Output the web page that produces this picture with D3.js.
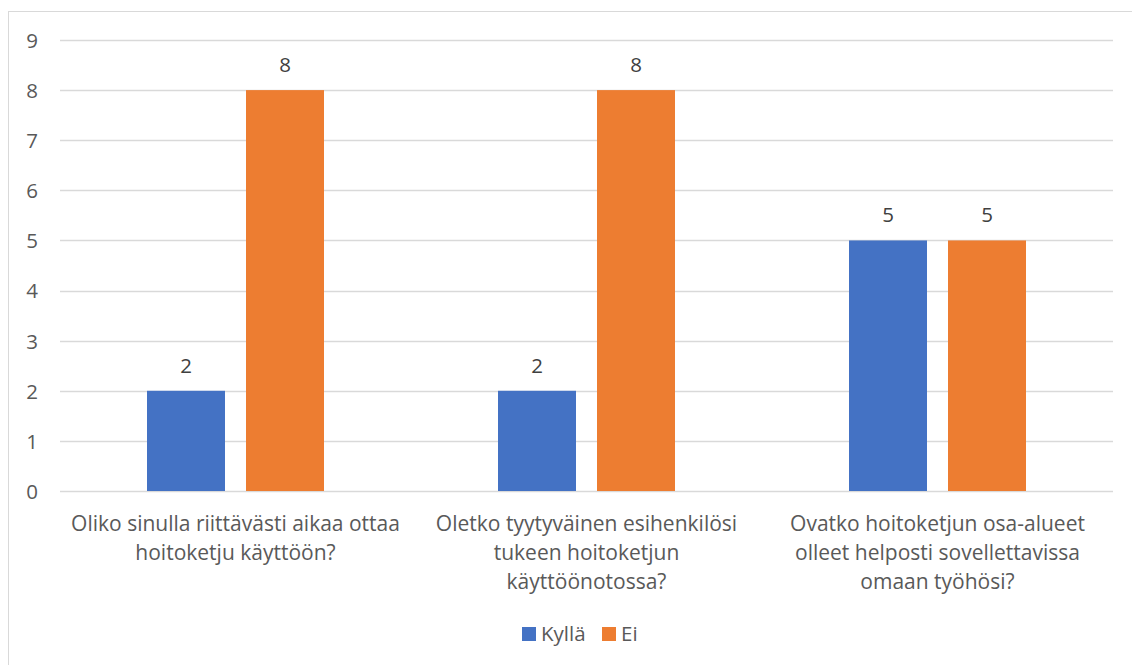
<!DOCTYPE html>
<html><head><meta charset="utf-8">
<script src="https://cdn.jsdelivr.net/npm/d3@7"></script>
<style>body{margin:0;background:#fff;}svg{display:block;font-family:"Open Sans",sans-serif;}</style>
</head><body>
<svg id="c" width="1132" height="665"></svg>
<script>
const categories = [
  ["Oliko sinulla riittävästi aikaa ottaa", "hoitoketju käyttöön?"],
  ["Oletko tyytyväinen esihenkilösi", "tukeen hoitoketjun", "käyttöönotossa?"],
  ["Ovatko hoitoketjun osa-alueet", "olleet helposti sovellettavissa", "omaan työhösi?"]
];
const seriesNames = ["Kyllä", "Ei"];
const kylla = [2, 2, 5];
const ei = [8, 8, 5];
const yTicks = [0,1,2,3,4,5,6,7,8,9];
const colors = ["#4472C4", "#ED7D31"];

(function(){
const FONT = "'Open Sans',sans-serif";
const FS = 20.5;
const svg = d3.select("#c");
// border
svg.append("rect").attr("x",8.5).attr("y",11.5).attr("width",1140).attr("height",700)
  .attr("fill","none").attr("stroke","#d9d9d9").attr("stroke-width",1);

const pL = 60, pR = 1113, pT = 40, pB = 491;
const x = d3.scaleBand().domain(d3.range(categories.length)).range([pL, pR]).padding(0);
const y = d3.scaleLinear().domain([0, 9]).range([pB, pT]);

// gridlines
svg.append("g").selectAll("line").data(yTicks).join("line")
  .attr("x1", pL).attr("x2", pR)
  .attr("y1", d => Math.round(y(d))+0.5).attr("y2", d => Math.round(y(d))+0.5)
  .attr("stroke", "#d9d9d9").attr("stroke-width", 1.3);

// y axis labels
const yAxis = d3.axisLeft(y).tickValues(yTicks).tickSize(0).tickPadding(0);
const ya = svg.append("g").attr("transform", `translate(38,0)`).call(yAxis);
ya.select(".domain").remove();
ya.selectAll("text").attr("font-size", FS).attr("fill", "#595959").attr("font-family",FONT).attr("dy","0.36em");

const barW = 78, gap = 21;
const sub = d3.scaleBand().domain([0,1]).range([-(barW + gap/2), barW + gap/2]).paddingInner(gap/(barW+gap)).paddingOuter(0);
const series = [kylla, ei];
series.forEach((vals, si) => {
  const g = svg.append("g");
  g.selectAll("rect").data(vals).join("rect")
    .attr("x", (d,i) => x(i) + x.bandwidth()/2 + sub(si))
    .attr("width", sub.bandwidth())
    .attr("y", d => y(d))
    .attr("height", d => y(0) - y(d))
    .attr("fill", colors[si]);
  g.selectAll("text").data(vals).join("text")
    .attr("x", (d,i) => x(i) + x.bandwidth()/2 + sub(si) + sub.bandwidth()/2)
    .attr("y", d => y(d) - 18)
    .attr("text-anchor", "middle")
    .attr("font-size", FS).attr("fill", "#404040")
    .text(d => d);
});

// category labels
const cl = svg.append("g");
categories.forEach((lines, i) => {
  const t = cl.append("text").attr("text-anchor","middle").attr("font-size",21).attr("fill","#595959");
  lines.forEach((ln, j) => {
    t.append("tspan").attr("x", x(i) + x.bandwidth()/2).attr("y", 531 + j*29).text(ln);
  });
});

// legend
const lg = svg.append("g");
const legX = [522, 602];
seriesNames.forEach((n, i) => {
  lg.append("rect").attr("x", legX[i]).attr("y", 627).attr("width", 14).attr("height", 14).attr("fill", colors[i]);
  lg.append("text").attr("x", legX[i] + 19).attr("y", 641).attr("font-size", FS).attr("fill", "#595959").text(n);
});
})();
</script>
</body></html>
